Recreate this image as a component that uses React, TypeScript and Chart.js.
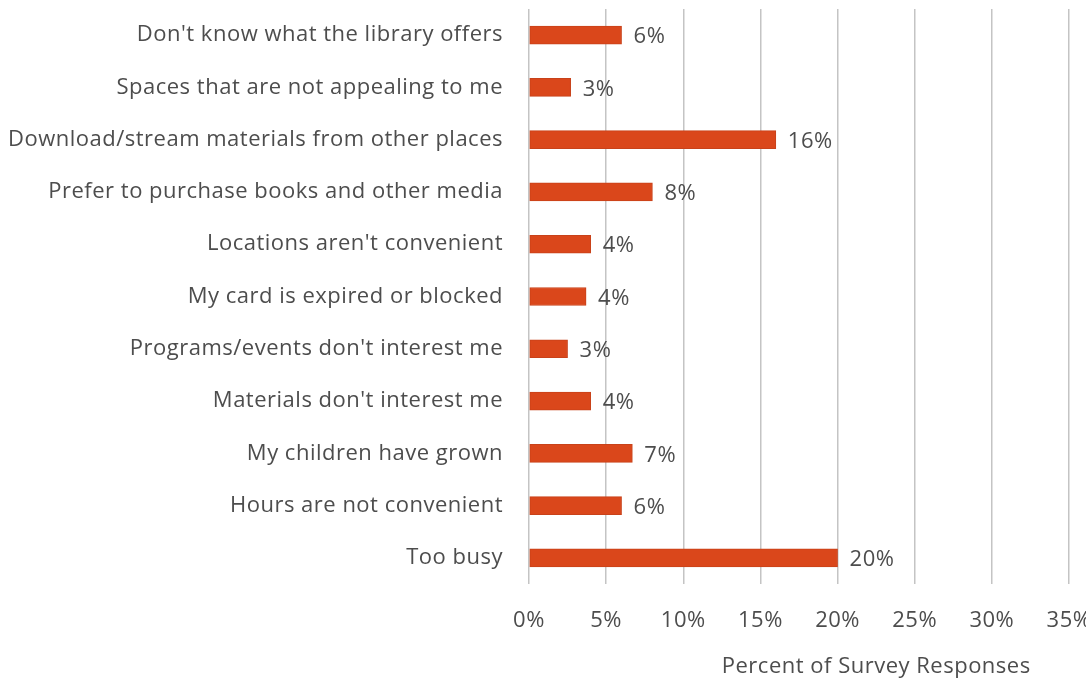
import React, { useEffect, useRef } from "react";
import { Chart, registerables } from "chart.js";

Chart.register(...registerables);

const categories = [
  "Don't know what the library offers",
  "Spaces that are not appealing to me",
  "Download/stream materials from other places",
  "Prefer to purchase books and other media",
  "Locations aren't convenient",
  "My card is expired or blocked",
  "Programs/events don't interest me",
  "Materials don't interest me",
  "My children have grown",
  "Hours are not convenient",
  "Too busy",
];

const values = [6.0, 2.7, 16.0, 8.0, 4.0, 3.7, 2.5, 4.0, 6.7, 6.0, 20.0];
const valueLabels = ["6%", "3%", "16%", "8%", "4%", "4%", "3%", "4%", "7%", "6%", "20%"];
const xTicks = [0, 5, 10, 15, 20, 25, 30, 35];
const xTitle = "Percent of Survey Responses";

const FONT = "'Open Sans'";
const SIZE = 22;
const SPACING = "0.5px";
const TEXT = "#4d4d4d";

export default function App() {
  const ref = useRef<HTMLCanvasElement | null>(null);

  useEffect(() => {
    if (!ref.current) return;
    const spacingPlugin = {
      id: "spacing",
      beforeDraw(chart: any) {
        (chart.ctx as any).letterSpacing = SPACING;
      },
    };
    const labelPlugin = {
      id: "valueLabels",
      afterDatasetsDraw(chart: any) {
        const ctx = chart.ctx;
        const meta = chart.getDatasetMeta(0);
        ctx.save();
        ctx.letterSpacing = SPACING;
        ctx.font = `${SIZE}px ${FONT}`;
        ctx.fillStyle = TEXT;
        ctx.textAlign = "left";
        ctx.textBaseline = "middle";
        meta.data.forEach((bar: any, i: number) => {
          ctx.fillText(valueLabels[i], bar.x + 12, bar.y + 2);
        });
        ctx.restore();
      },
    };
    const titlePlugin = {
      id: "xTitle",
      afterDraw(chart: any) {
        const ctx = chart.ctx;
        const a = chart.chartArea;
        ctx.save();
        ctx.letterSpacing = SPACING;
        ctx.font = `${SIZE}px ${FONT}`;
        ctx.fillStyle = TEXT;
        ctx.textAlign = "center";
        ctx.textBaseline = "middle";
        ctx.fillText(xTitle, a.left + (a.right - a.left) * 0.643, 667);
        ctx.restore();
      },
    };
    const chart = new Chart(ref.current, {
      type: "bar",
      data: {
        labels: categories,
        datasets: [
          {
            data: values,
            backgroundColor: "#da471b",
            borderColor: "#c8421a",
            borderWidth: 1,
            borderSkipped: false,
            barThickness: 18,
          },
        ],
      },
      options: {
        indexAxis: "y",
        animation: false,
        responsive: true,
        maintainAspectRatio: false,
        layout: { padding: { top: 9, left: 0, right: 17, bottom: 0 } },
        plugins: { legend: { display: false }, tooltip: { enabled: false } },
        scales: {
          x: {
            min: 0,
            max: 35,
            afterBuildTicks: (scale: any) => {
              scale.ticks = xTicks.map((v) => ({ value: v }));
            },
            afterFit: (scale: any) => {
              scale.paddingRight = 0;
              scale.paddingLeft = 0;
              scale.height = 100;
            },
            grid: { color: "#c4c4c4", lineWidth: 1.5, drawTicks: false },
            border: { display: false },
            ticks: {
              padding: 24,
              color: TEXT,
              font: { family: FONT, size: SIZE },
              callback: (v: any) => `${v}%`,
            },
          },
          y: {
            afterFit: (scale: any) => {
              scale.width = 529;
              scale.paddingTop = 0;
              scale.paddingBottom = 0;
            },
            grid: { display: false, drawTicks: false },
            border: { display: false },
            ticks: {
              padding: 26,
              color: TEXT,
              font: { family: FONT, size: SIZE },
            },
          },
        },
      },
      plugins: [spacingPlugin, labelPlugin, titlePlugin],
    });
    return () => chart.destroy();
  }, []);

  return (
    <div style={{ position: "absolute", left: 0, top: 0, width: 1086, height: 684, overflow: "hidden" }}>
      <canvas ref={ref} />
    </div>
  );
}
